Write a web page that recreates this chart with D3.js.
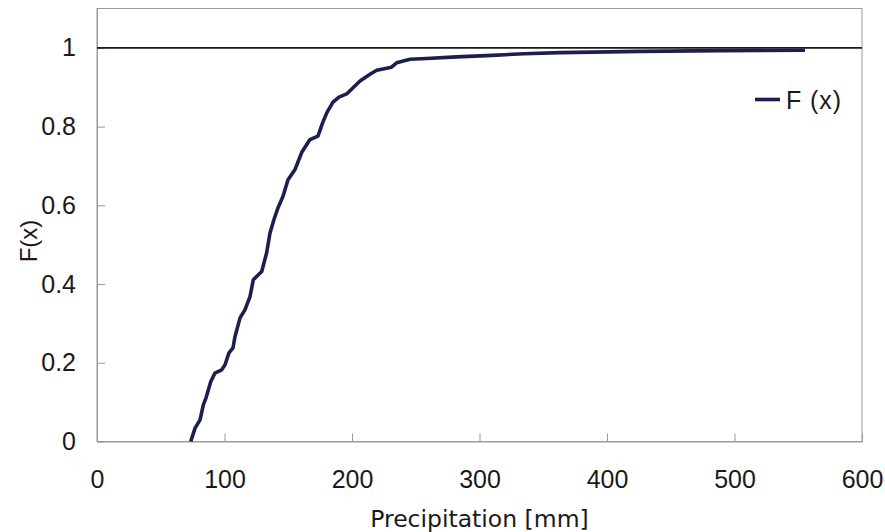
<!DOCTYPE html>
<html>
<head>
<meta charset="utf-8">
<script src="https://cdn.jsdelivr.net/npm/d3@7"></script>
<style>
  html, body { margin: 0; padding: 0; background: #fff; }
  svg { display: block; }
</style>
</head>
<body>
<svg id="chart" width="885" height="532"></svg>
<script>
const precip = [73.5, 76.9, 80.8, 83.4, 85.5, 89.2, 92.5, 97.8, 100.4, 103.5, 106.7, 108.2,
  112.2, 116.1, 120.0, 122.6, 129.2, 133.1, 135.7, 138.8, 142.0, 145.9, 149.8, 155.3,
  160.5, 167.0, 173.3, 177.0, 180.4, 185.1, 189.8, 195.8, 206.3, 214.1, 219.4, 231.0,
  235.0, 245.5, 258.6, 282.0, 310.0, 335.0, 363.0, 426.0, 490.0, 555.3];
const fx = [0.000, 0.034, 0.055, 0.093, 0.111, 0.152, 0.174, 0.182, 0.195, 0.225, 0.238, 0.266,
  0.314, 0.335, 0.368, 0.411, 0.432, 0.480, 0.530, 0.564, 0.594, 0.623, 0.665, 0.691,
  0.734, 0.767, 0.776, 0.810, 0.836, 0.862, 0.875, 0.883, 0.916, 0.933, 0.943, 0.951,
  0.962, 0.971, 0.973, 0.977, 0.981, 0.985, 0.988, 0.991, 0.993, 0.994];
const xTicks = [0, 100, 200, 300, 400, 500, 600];
const yTicks = [0, 0.2, 0.4, 0.6, 0.8, 1];
const xTitle = "Precipitation [mm]";
const yTitle = "F(x)";
const seriesName = "F (x)";
const refLine = 1;

const svg = d3.select("#chart");
const L = 97, R = 862, T = 8.5, B = 441.5;
const x = d3.scaleLinear().domain([0, 600]).range([L, R]);
const y = d3.scaleLinear().domain([0, 1.1]).range([B, T]);

const tickFont = "'Liberation Sans', Arial, sans-serif";
const textColor = "#1a1a1a";

// frame
svg.append("rect")
  .attr("x", L).attr("y", T).attr("width", R - L).attr("height", B - T)
  .attr("fill", "none").attr("stroke", "#9a9a9a").attr("stroke-width", 1);

// x axis
const gx = svg.append("g").attr("transform", `translate(0,${B})`)
  .call(d3.axisBottom(x).tickValues(xTicks).tickSizeInner(-8).tickSizeOuter(0).tickPadding(29)
    .tickFormat(d3.format("d")));
gx.select(".domain").attr("stroke", "#9a9a9a");
gx.selectAll(".tick line").attr("stroke", "#9a9a9a");
gx.selectAll("text").attr("font-family", tickFont).attr("font-size", 25).attr("fill", textColor);

// y axis
const gy = svg.append("g").attr("transform", `translate(${L},0)`)
  .call(d3.axisLeft(y).tickValues(yTicks).tickSizeInner(-8).tickSizeOuter(0).tickPadding(21)
    .tickFormat(d => d3.format("~g")(d)));
gy.select(".domain").attr("stroke", "#9a9a9a");
gy.selectAll(".tick line").attr("stroke", "#9a9a9a");
gy.selectAll("text").attr("font-family", tickFont).attr("font-size", 25).attr("fill", textColor);

// reference line at F=1
svg.append("line")
  .attr("x1", x(0)).attr("x2", x(600)).attr("y1", y(refLine)).attr("y2", y(refLine))
  .attr("stroke", "#1a1a1a").attr("stroke-width", 1.6);

// curve
const pts = precip.map((p, i) => [p, fx[i]]);
svg.append("path")
  .datum(pts)
  .attr("fill", "none")
  .attr("stroke", "#1c1e4e")
  .attr("stroke-width", 3.6)
  .attr("stroke-linejoin", "round")
  .attr("stroke-linecap", "butt")
  .attr("d", d3.line().x(d => x(d[0])).y(d => y(d[1])));

// legend
svg.append("line")
  .attr("x1", 755).attr("x2", 780).attr("y1", 99.5).attr("y2", 99.5)
  .attr("stroke", "#1c1e4e").attr("stroke-width", 3.6);
svg.append("text")
  .attr("x", 786).attr("y", 108.5)
  .attr("font-family", tickFont).attr("font-size", 25).attr("fill", textColor)
  .attr("textLength", 55).attr("lengthAdjust", "spacing")
  .text(seriesName);

// axis titles
svg.append("text")
  .attr("x", (L + R) / 2).attr("y", 527)
  .attr("text-anchor", "middle")
  .attr("font-family", "'DejaVu Sans', sans-serif").attr("font-size", 23.5).attr("fill", textColor)
  .text(xTitle);
svg.append("text")
  .attr("transform", "translate(37,241) rotate(-90)")
  .attr("text-anchor", "middle")
  .attr("font-family", tickFont).attr("font-size", 24).attr("fill", textColor)
  .text(yTitle);
</script>
</body>
</html>
